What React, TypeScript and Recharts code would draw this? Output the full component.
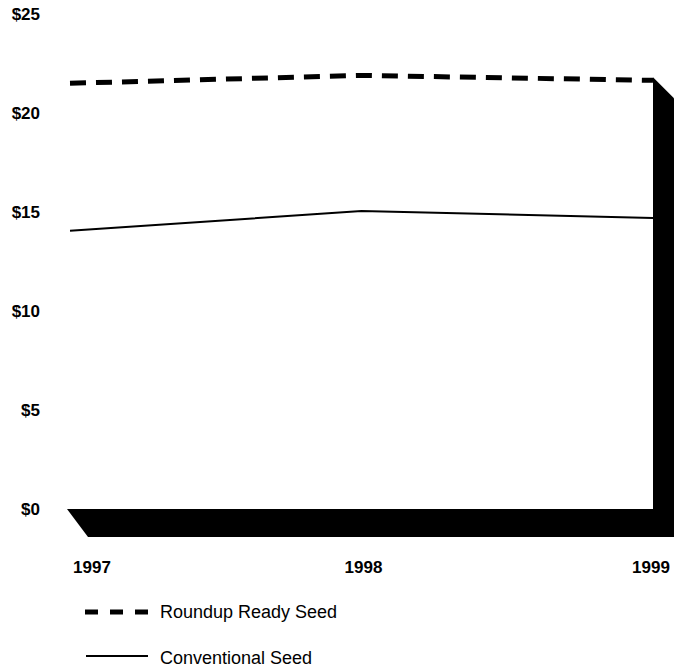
import React from "react";
import {
  LineChart,
  Line,
  XAxis,
  YAxis,
  ReferenceArea,
} from "recharts";

const years = ["1997", "1998", "1999"];
const roundupReady = [21.5, 21.9, 21.65];
const conventional = [14.05, 15.05, 14.7];
const yTicks = [0, 5, 10, 15, 20, 25];

const data = years.map((year, i) => ({
  year,
  roundup: roundupReady[i],
  conventional: conventional[i],
}));

const tickDx = [22, 2, -2];
const DEPTH_X = 21;
const DEPTH_Y = 28;

function YearTick(props: any) {
  const { x, y, payload, index } = props;
  return (
    <text
      x={x + (tickDx[index] ?? 0)}
      y={y}
      dy="0.71em"
      textAnchor="middle"
      fontFamily="Liberation Sans, Arial, sans-serif"
      fontWeight="bold"
      fontSize={17}
      fill="#000"
    >
      {payload.value}
    </text>
  );
}

// 3D floor and back wall drawn from the plot rectangle
function FloorAndWall(props: any) {
  const { x, y, width, height } = props;
  const left = x;
  const right = x + width;
  const bottom = y + height;
  const lastVal = roundupReady[roundupReady.length - 1];
  const wallTop = bottom - (lastVal / 25) * height - 3;
  const floor = [
    [left - 3, bottom],
    [right, bottom],
    [right + DEPTH_X, bottom + DEPTH_Y],
    [left + 18, bottom + DEPTH_Y],
  ];
  const wall = [
    [right, wallTop],
    [right + DEPTH_X, wallTop + DEPTH_X],
    [right + DEPTH_X, bottom + DEPTH_Y],
    [right, bottom + DEPTH_Y],
  ];
  const pts = (p: number[][]) => p.map((q) => q.join(",")).join(" ");
  return (
    <g>
      <polygon points={pts(floor)} fill="#000" />
      <polygon points={pts(wall)} fill="#000" />
    </g>
  );
}

function LegendBox() {
  const txt: React.CSSProperties = {
    fontFamily: "Liberation Sans, Arial, sans-serif",
    fontSize: 18,
    color: "#000",
    marginLeft: 12,
  };
  return (
    <div style={{ position: "absolute", left: 84, top: 600, width: 300 }}>
      <div style={{ display: "flex", alignItems: "center", height: 24 }}>
        <svg width={64} height={10}>
          <line x1={1} y1={5} x2={64} y2={5} stroke="#000" strokeWidth={5} strokeDasharray="13 12" />
        </svg>
        <span style={txt}>Roundup Ready Seed</span>
      </div>
      <div style={{ display: "flex", alignItems: "center", height: 24, marginTop: 22 }}>
        <svg width={64} height={10}>
          <line x1={2} y1={3} x2={64} y2={3} stroke="#000" strokeWidth={2} />
        </svg>
        <span style={txt}>Conventional Seed</span>
      </div>
    </div>
  );
}

export default function App() {
  return (
    <div style={{ position: "absolute", left: 0, top: 0, width: 674, height: 670, background: "#fff" }}>
      <LineChart
        width={674}
        height={670}
        data={data}
        margin={{ top: 14, right: 21, bottom: 131, left: 0 }}
      >
        <XAxis
          dataKey="year"
          axisLine={false}
          tickLine={false}
          tickSize={0}
          tickMargin={52}
          tick={<YearTick />}
          interval={0}
        />
        <YAxis
          width={70}
          domain={[0, 25]}
          ticks={yTicks}
          axisLine={false}
          tickLine={false}
          tickSize={0}
          tickMargin={30}
          tickFormatter={(v: number) => `$${v}`}
          tick={{
            fontFamily: "Liberation Sans, Arial, sans-serif",
            fontWeight: "bold",
            fontSize: 17,
            fill: "#000",
          }}
        />
        <ReferenceArea
          x1="1997"
          x2="1999"
          y1={0}
          y2={25}
          ifOverflow="visible"
          shape={<FloorAndWall />}
        />
        <Line
          dataKey="conventional"
          type="linear"
          stroke="#000"
          strokeWidth={2}
          dot={false}
          activeDot={false}
          isAnimationActive={false}
        />
        <Line
          dataKey="roundup"
          type="linear"
          stroke="#000"
          strokeWidth={5}
          strokeDasharray="16 10"
          dot={false}
          activeDot={false}
          isAnimationActive={false}
        />
      </LineChart>
      <LegendBox />
    </div>
  );
}
